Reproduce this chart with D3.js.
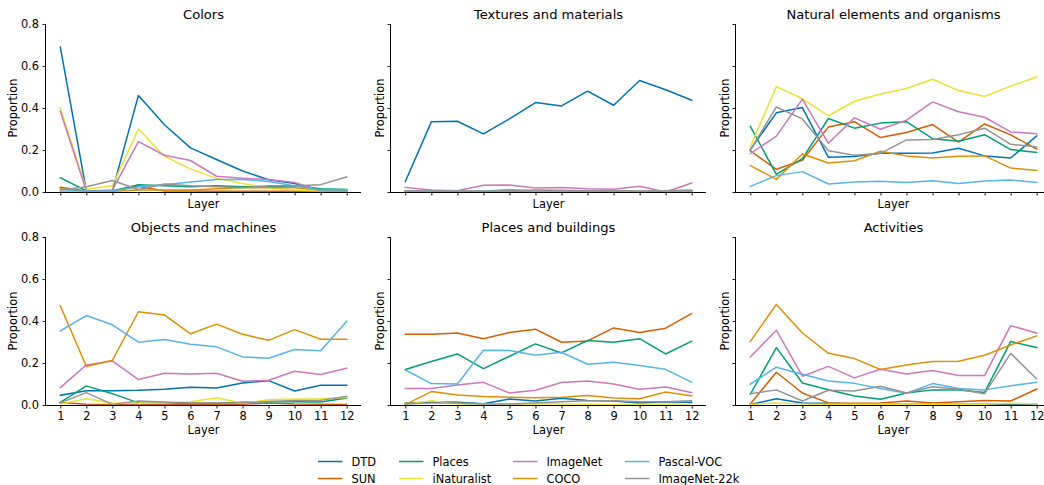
<!DOCTYPE html>
<html><head><meta charset="utf-8">
<script src="https://cdn.jsdelivr.net/npm/d3@7"></script>
<style>body{margin:0;background:#fff}svg{display:block;font-family:"DejaVu Sans",sans-serif}</style>
</head><body><svg id="chart" width="1044" height="485"></svg>
<script>
const layers = [1,2,3,4,5,6,7,8,9,10,11,12];
const seriesNames = ["DTD","SUN","Places","iNaturalist","ImageNet","COCO","Pascal-VOC","ImageNet-22k"];
const seriesColors = ["#0173b2","#d55e00","#029e73","#ece133","#cc78bc","#de8f05","#56b4e9","#949494"];
const panelTitles = ["Colors","Textures and materials","Natural elements and organisms","Objects and machines","Places and buildings","Activities"];
const yTicks = [0,0.2,0.4,0.6,0.8];

// values per panel, series order as seriesNames
const colors = [
  [0.69,0.005,0.005,0.46,0.32,0.21,0.155,0.10,0.058,0.04,0.01,0.005],
  [0.023,0.005,0.005,0.027,0.005,0.005,0.003,0.003,0.003,0.003,0.003,0.003],
  [0.068,0.005,0.005,0.035,0.03,0.025,0.03,0.025,0.025,0.03,0.015,0.012],
  [0.40,0.013,0.03,0.30,0.17,0.11,0.065,0.04,0.02,0.01,0.005,0.005],
  [0.385,0.005,0.01,0.24,0.175,0.15,0.075,0.065,0.06,0.045,0.005,0.005],
  [0.015,0.003,0.003,0.01,0.01,0.01,0.015,0.02,0.02,0.02,0.01,0.008],
  [0.005,0.005,0.005,0.025,0.035,0.048,0.06,0.06,0.05,0.03,0.01,0.01],
  [0.01,0.025,0.055,0.012,0.038,0.03,0.025,0.02,0.03,0.03,0.035,0.072]
];
const textures = [
  [0.05,0.334,0.337,0.277,0.348,0.426,0.41,0.48,0.413,0.531,0.487,0.437],
  [0.002,0.002,0.002,0.002,0.003,0.002,0.002,0.002,0.002,0.002,0.002,0.002],
  [0.003,0.002,0.002,0.002,0.003,0.004,0.003,0.003,0.002,0.002,0.002,0.003],
  [0.002,0.002,0.002,0.002,0.002,0.002,0.002,0.002,0.002,0.004,0.002,0.002],
  [0.022,0.01,0.006,0.032,0.033,0.019,0.022,0.016,0.013,0.027,0.0,0.043],
  [0.002,0.002,0.002,0.002,0.002,0.002,0.002,0.002,0.002,0.002,0.002,0.002],
  [0.004,0.003,0.003,0.004,0.012,0.004,0.004,0.004,0.003,0.003,0.003,0.004],
  [0.006,0.005,0.004,0.005,0.006,0.01,0.008,0.006,0.006,0.005,0.006,0.01]
];
const natural = [
  [0.202,0.377,0.402,0.165,0.169,0.184,0.184,0.186,0.208,0.172,0.162,0.267],
  [0.196,0.108,0.151,0.31,0.335,0.259,0.283,0.321,0.238,0.324,0.272,0.205],
  [0.313,0.084,0.159,0.35,0.304,0.328,0.335,0.254,0.242,0.273,0.202,0.189],
  [0.215,0.502,0.444,0.363,0.432,0.467,0.493,0.537,0.483,0.455,0.504,0.548],
  [0.183,0.266,0.442,0.232,0.353,0.299,0.342,0.429,0.382,0.356,0.286,0.278],
  [0.126,0.06,0.181,0.138,0.149,0.194,0.172,0.162,0.17,0.172,0.114,0.103],
  [0.027,0.078,0.097,0.038,0.048,0.051,0.045,0.054,0.041,0.052,0.057,0.046],
  [0.199,0.405,0.348,0.196,0.175,0.184,0.248,0.25,0.273,0.304,0.227,0.215]
];
const objects = [
  [0.046,0.068,0.068,0.07,0.075,0.084,0.081,0.105,0.116,0.067,0.094,0.094],
  [0.012,0.003,0.002,0.002,0.002,0.002,0.002,0.003,0.01,0.005,0.003,0.002],
  [0.013,0.091,0.054,0.01,0.008,0.008,0.008,0.013,0.016,0.016,0.014,0.033],
  [0.005,0.03,0.01,0.008,0.01,0.016,0.035,0.008,0.025,0.028,0.03,0.036],
  [0.083,0.191,0.21,0.121,0.151,0.148,0.151,0.113,0.118,0.161,0.145,0.175],
  [0.472,0.183,0.213,0.444,0.429,0.339,0.385,0.337,0.308,0.359,0.313,0.313],
  [0.353,0.426,0.382,0.299,0.312,0.289,0.277,0.229,0.223,0.264,0.258,0.399],
  [0.01,0.059,0.003,0.019,0.014,0.01,0.01,0.01,0.017,0.021,0.022,0.041]
];
const places = [
  [0.008,0.014,0.013,0.006,0.029,0.019,0.032,0.022,0.019,0.01,0.016,0.013],
  [0.337,0.337,0.343,0.315,0.345,0.361,0.299,0.305,0.367,0.345,0.366,0.436],
  [0.169,0.207,0.243,0.173,0.232,0.291,0.248,0.307,0.299,0.316,0.243,0.304],
  [0.003,0.02,0.005,0.005,0.005,0.005,0.005,0.003,0.002,0.002,0.003,0.005],
  [0.079,0.079,0.095,0.108,0.057,0.07,0.107,0.114,0.1,0.075,0.086,0.059],
  [0.002,0.064,0.048,0.04,0.037,0.035,0.037,0.045,0.033,0.03,0.062,0.043],
  [0.167,0.102,0.1,0.261,0.259,0.237,0.251,0.194,0.204,0.188,0.17,0.108],
  [0.005,0.01,0.01,0.005,0.005,0.01,0.015,0.02,0.02,0.015,0.015,0.02]
];
const activities = [
  [0.002,0.03,0.01,0.008,0.005,0.004,0.003,0.003,0.003,0.003,0.003,0.003],
  [0.005,0.156,0.057,0.01,0.008,0.01,0.019,0.01,0.016,0.022,0.019,0.076],
  [0.051,0.273,0.105,0.073,0.043,0.027,0.057,0.072,0.072,0.06,0.302,0.273],
  [0.002,0.01,0.005,0.003,0.003,0.003,0.003,0.003,0.003,0.003,0.008,0.005],
  [0.229,0.356,0.137,0.184,0.129,0.17,0.148,0.164,0.141,0.141,0.378,0.343],
  [0.302,0.479,0.343,0.246,0.221,0.169,0.191,0.207,0.208,0.237,0.286,0.329],
  [0.099,0.18,0.146,0.114,0.103,0.079,0.056,0.102,0.079,0.072,0.092,0.108],
  [0.054,0.072,0.019,0.07,0.067,0.089,0.057,0.087,0.075,0.054,0.246,0.124]
];
const panelData = [colors, textures, natural, objects, places, activities];

const svg = d3.select("#chart");
const W = 315, H = 168;
const lefts = [46, 391, 736], tops = [24, 237];
const x = d3.scaleLinear().domain([0.45, 12.55]).range([0, W]);
const y = d3.scaleLinear().domain([0, 0.8]).range([H, 0]);
const fs = 11.4, tfs = 13.1;

panelData.forEach((data, p) => {
  const row = Math.floor(p / 3), col = p % 3;
  const g = svg.append("g").attr("transform", `translate(${lefts[col]},${tops[row]})`);
  const line = d3.line().x((d, i) => x(layers[i])).y(d => y(d));
  data.forEach((vals, s) => {
    g.append("path").datum(vals).attr("d", line).attr("fill", "none")
      .attr("stroke", seriesColors[s]).attr("stroke-width", 1.5)
      .attr("stroke-linejoin", "round").attr("stroke-linecap", "square");
  });
  const xa = g.append("g").attr("transform", `translate(0,${H})`)
    .call(d3.axisBottom(x).tickValues(layers).tickSize(3.5).tickPadding(3.5)
      .tickFormat(row === 1 ? d3.format("d") : () => ""));
  const ya = g.append("g")
    .call(d3.axisLeft(y).tickValues(yTicks).tickSize(3.5).tickPadding(3.5)
      .tickFormat(col === 0 ? d3.format(".1f") : () => ""));
  [xa, ya].forEach(a => {
    a.select(".domain").attr("stroke", "#000").attr("stroke-width", 1);
    a.selectAll(".tick line").attr("stroke", "#000").attr("stroke-width", 0.9);
    a.selectAll(".tick text").attr("fill", "#000").style("font-size", fs + "px").style("font-family", "DejaVu Sans");
  });
  xa.select(".domain").attr("d", `M0,0.5H${W}`);
  ya.select(".domain").attr("d", `M-0.5,0V${H}`);
  g.append("text").attr("x", W / 2).attr("y", -5.3).attr("text-anchor", "middle")
    .style("font-size", tfs + "px").text(panelTitles[p]);
  g.append("text").attr("x", W / 2).attr("y", row === 1 ? H + 29 : H + 15.5).attr("text-anchor", "middle")
    .style("font-size", fs + "px").text("Layer");
  g.append("text").attr("transform", `translate(${col === 0 ? -29 : -7},${H / 2}) rotate(-90)`)
    .attr("text-anchor", "middle").style("font-size", fs + "px").text("Proportion");
});

// legend
const legX = [318, 399, 513, 625], legY = [461.5, 478.5];
const lg = svg.append("g");
seriesNames.forEach((name, i) => {
  const c = Math.floor(i / 2), r = i % 2;
  lg.append("line").attr("x1", legX[c]).attr("x2", legX[c] + 24.5)
    .attr("y1", legY[r]).attr("y2", legY[r]).attr("stroke", seriesColors[i]).attr("stroke-width", 1.5);
  lg.append("text").attr("x", legX[c] + 33.5).attr("y", legY[r] + 4)
    .style("font-size", "11.4px").text(name);
});
</script></body></html>
